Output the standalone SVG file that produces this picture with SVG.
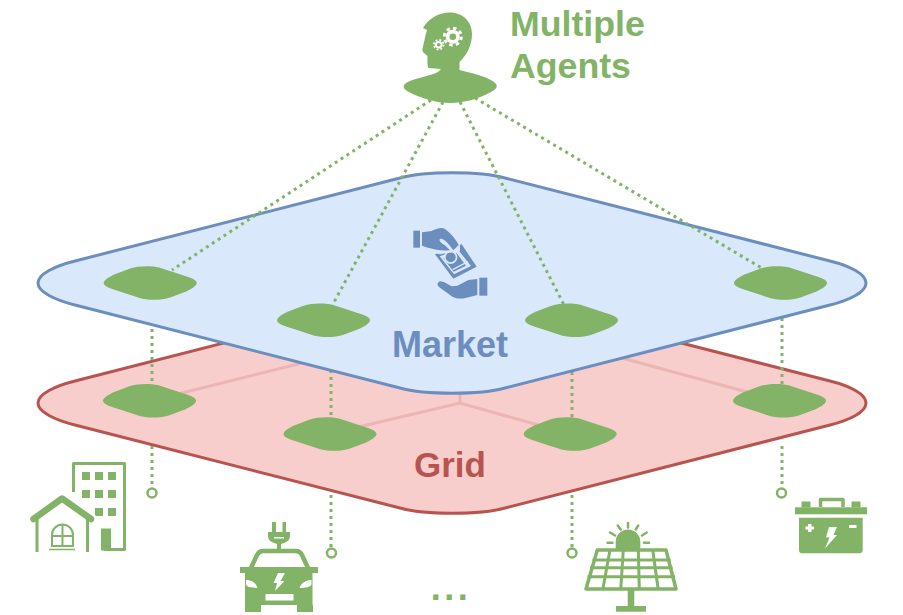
<svg xmlns="http://www.w3.org/2000/svg" width="903" height="615" viewBox="0 0 903 615">
  <style>
    .lbl { font-family: "Liberation Sans", Arial, sans-serif; font-weight: 700; }
    .green { fill: #82b366; }
    .blue { fill: #6c8ebf; }
    .paper { fill: #dae8fc; }
    .wire { fill: none; stroke: #82b366; stroke-width: 3; stroke-dasharray: 3 4; }
    .bus { fill: none; stroke: #eab5b3; stroke-width: 3; }
    .ring { fill: #fff; stroke: #82b366; stroke-width: 2.500; }
    .cut { fill: #fff; }
    .outline { fill: none; stroke: #82b366; }
  </style>
  <defs>
    <path id="pad" d="M-46.500 0 C-46.500 -3 -41 -6 -36 -8.500 L-20 -14.500 C-12 -17.200 0 -17.500 9 -15.500 L38 -6 C44 -4 46.500 -2 46.500 0 C46.500 3 41 6 36 8.500 L20 14.500 C12 17.200 0 17.500 -9 15.500 L-38 6 C-44 4 -46.500 2 -46.500 0 Z" class="green"/>
    <path id="plate" d="M38 0 C38 -9 55 -17 75 -22 L400 -105 C425 -112 480 -112 505 -105 L830 -22 C850 -17 866 -9 866 0 C866 9 850 17 830 22 L505 105 C480 112 425 112 400 105 L75 22 C55 17 38 9 38 0 Z"/>
  </defs>

  <g id="grid">
    <use href="#plate" y="403" fill="#f8cecc" stroke="#b85450" stroke-width="3"/>
    <path class="bus" d="M150 401 L330 356 M780 401 L600 352 M329 434 L460 403 L570 434 M460 403 V390"/>
    <text class="lbl" x="450" y="477" font-size="35" text-anchor="middle" fill="#b85450">Grid</text>
  </g>

  <g id="connectors">
    <path class="wire" d="M152 322 V386 M331 370 V419 M572 372 V419 M782 318 V386"/>
    <path class="wire" d="M152 446 V488 M331 495 V548 M572 495 V548 M782 446 V488"/>
  </g>

  <g id="market">
    <use href="#plate" y="283" fill="#dae8fc" stroke="#6c8ebf" stroke-width="3"/>
    <text class="lbl" x="450" y="357" font-size="36" text-anchor="middle" fill="#6c8ebf">Market</text>
  </g>

  <g id="agent-links">
    <path class="wire" d="M431 100 L172 270 M443 102 L333 304 M460 102 L564 305 M475 98 L765 270"/>
  </g>

  <g id="market-pads">
    <use href="#pad" x="150.200" y="283"/>
    <use href="#pad" x="323.500" y="320.300"/>
    <use href="#pad" x="571.500" y="320.300"/>
    <use href="#pad" x="780.500" y="283"/>
  </g>
  <g id="grid-pads">
    <use href="#pad" x="149.500" y="400.700"/>
    <use href="#pad" x="330" y="434"/>
    <use href="#pad" x="570.200" y="434"/>
    <use href="#pad" x="779.500" y="400.700"/>
  </g>

  <g id="terminals">
    <circle class="ring" cx="152" cy="493" r="4.500"/>
    <circle class="ring" cx="331.500" cy="553" r="4.500"/>
    <circle class="ring" cx="572" cy="553" r="4.500"/>
    <circle class="ring" cx="781.500" cy="493" r="4.500"/>
  </g>

  <g id="agents">
    <path class="green" d="M423 28 C428 19 438 12.500 450 12.500 C463 12.500 472 22 472 34 C472 46 466 56 459.500 62 L459.500 70 C472 73 488 77 494 82 C498.500 85.500 497.500 88.500 491 92 C478 99 464 103 450 103 C436 103 420 98 409 92 C403 89 402 86 406 83 C414 78 430 76 438 72 L441 69 L429 68 C427 68 427.500 60 427.500 56 C424 53 421.500 51 422.500 49 C423.500 45 425 37 427 30 Z"/>
    <g id="gears">
      <circle cx="452.800" cy="36.700" r="7" fill="#fff"/>
      <circle cx="452.800" cy="36.700" r="8.500" fill="none" stroke="#fff" stroke-width="3" stroke-dasharray="3.400 3.280"/>
      <circle cx="452.800" cy="36.700" r="3.300" class="green"/>
      <circle cx="438.700" cy="44.700" r="3.800" fill="#fff"/>
      <circle cx="438.700" cy="44.700" r="4.800" fill="none" stroke="#fff" stroke-width="1.800" stroke-dasharray="1.900 1.870"/>
      <circle cx="438.700" cy="44.700" r="1.800" class="green"/>
    </g>
    <text class="lbl green" x="510" y="36" font-size="35.700">Multiple</text>
    <text class="lbl green" x="510" y="78" font-size="35.700">Agents</text>
  </g>

  <g id="money" transform="translate(400 215) scale(0.3333)">
    <rect class="blue" x="40" y="47" width="21" height="51"/>
    <path class="blue" d="M105 118 L185 88 L230 155 L160 191 Z"/>
    <path class="paper" d="M119 124 L174 104 L213 153 L162 178 Z"/>
    <path class="blue" d="M130 130 L170 114 L198 152 L161 170 Z"/>
    <circle cx="152" cy="127" r="20" class="paper"/>
    <circle cx="152" cy="127" r="15" class="blue"/>
    <path d="M158 164 L204 140" stroke="#dae8fc" stroke-width="4"/>
    <path class="paper" d="M60 40 H180 V108 L120 118 L60 104 Z"/>
    <path class="blue" d="M66 52 L95 48 C108 42 122 36 134 41 C150 52 166 70 176 90 L160 106 L148 90 C140 80 126 68 120 72 C116 76 122 84 134 90 L150 106 C130 108 100 104 66 92 Z"/>
    <path class="blue" d="M120 199 C110 203 110 212 120 218 L150 240 C165 252 180 253 200 248 L232 240 L232 192 L205 195 L172 212 L155 214 L132 201 Z"/>
    <rect class="blue" x="238" y="188" width="24" height="54"/>
  </g>

  <g id="building">
    <path class="outline" stroke-width="3" stroke-linejoin="round" d="M73.500 492 V463.500 H124.500 V549.500 H104"/>
    <g class="green">
      <rect x="82" y="472" width="8" height="8"/><rect x="95" y="472" width="8" height="8"/><rect x="108" y="472" width="8" height="8"/>
      <rect x="82" y="490" width="8" height="8"/><rect x="95" y="490" width="8" height="8"/><rect x="108" y="490" width="8" height="8"/>
      <rect x="95" y="508" width="8" height="8"/><rect x="108" y="508" width="8" height="8"/>
      <rect x="101" y="528.500" width="10" height="22"/>
    </g>
    <path fill="#fff" stroke="#fff" stroke-width="3" d="M62 492 L99 520 V552 H30 V520 Z"/>
    <path class="outline" stroke-width="6.500" stroke-linecap="round" stroke-linejoin="round" d="M33.500 519 L62 498.500 L91 519"/>
    <path class="outline" stroke-width="3" d="M37 518 V552 M87.500 518 V552"/>
    <path class="outline" stroke-width="2" d="M52 546 V535 A10.500 10.500 0 0 1 73 535 V546 Z M62.500 525 V546 M52 536 H73"/>
    <path class="outline" stroke-width="1.500" d="M49 549.500 H75"/>
  </g>

  <g id="car">
    <path class="green" d="M272 522 H276 V532 H282.500 V522 H286 V532 H290 V536 C290 541 285 543 281 544 V549 H277 V544 C273 543 268 541 268 536 V532 H272 Z"/>
    <path class="cut" d="M274 537 H284 V538.500 H274 Z"/>
    <path class="outline" stroke-width="4.500" stroke-linejoin="round" d="M251 568 L257 555 C258.500 552 260 551 263 551 H296 C299 551 300.500 552 302 555 L308 568"/>
    <path class="green" d="M240 567 H318 V573 H312.500 V605 H313 V612 H297 V605 H261 V612 H245 V573 H240 Z"/>
    <path class="cut" d="M246 580 C252 580 256 583 257.500 588 C252 588 246 587 246 584 Z M311.500 580 C306 580 301 583 299.500 588 C305 588 311.500 587 311.500 584 Z"/>
    <rect class="cut" x="265.500" y="594" width="28" height="6.500"/>
    <path class="cut" d="M278 573 H285 L280.500 581 H284.500 L275 591 L277 583 H273.500 Z"/>
  </g>

  <g id="solar">
    <path class="outline" stroke-width="2.500" stroke-linecap="round" d="M628 523 V527.500 M617.700 525.500 L620.700 529.500 M638.300 525.500 L635.700 529.500 M610 532.500 L615 535.500 M646.700 532.500 L642 535.500 M607.500 542.700 H612.500 M644 542.700 H649"/>
    <path class="green" d="M615.700 549 V541.700 A12.300 12.300 0 0 1 640.300 541.700 V549 Z"/>
    <path class="outline" stroke-width="3" d="M592.500 560 H670.500 M590 567.700 H672.500 M587.500 576.700 H675 M610 550 L602.700 590 M623.300 550 L620.700 590 M638.300 550 L639.300 590 M652.700 550 L658.300 590"/>
    <path class="outline" stroke-width="3.500" stroke-linejoin="round" d="M597.300 550 H666 L676 589 H586 Z"/>
    <rect class="green" x="627.700" y="589" width="6.600" height="18"/>
    <rect class="green" x="616" y="606" width="30" height="5.700"/>
  </g>

  <g id="battery">
    <rect class="green" x="795" y="507.300" width="72" height="7"/>
    <rect class="green" x="801.500" y="501.500" width="9" height="6"/>
    <rect class="green" x="851.500" y="501.500" width="9" height="6"/>
    <path class="outline" stroke-width="3.500" stroke-linejoin="round" d="M820.500 507 V499.500 H843 V507"/>
    <path class="green" d="M799 517.700 H862.700 V550 C862.700 552 861.500 553.300 859.500 553.300 H802 C800 553.300 799 552 799 550 Z"/>
    <path class="cut" d="M808 524 H811.500 V526.500 H814 V529.500 H811.500 V532 H808 V529.500 H805.500 V526.500 H808 Z"/>
    <rect class="cut" x="849" y="525" width="7.500" height="3"/>
    <path class="cut" d="M829 527 H837 L833.500 535 H837 L825 548.500 L829.500 537.500 H826 Z"/>
  </g>

  <g id="ellipsis">
    <text class="lbl green" x="451" y="600" font-size="36" text-anchor="middle" letter-spacing="3.500">...</text>
  </g>
</svg>
